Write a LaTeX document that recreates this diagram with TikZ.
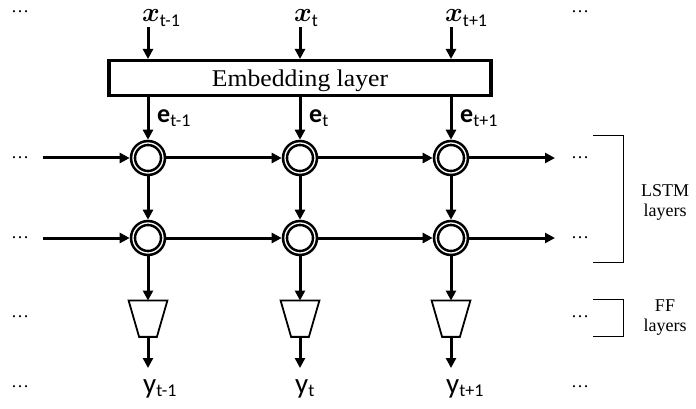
\documentclass[tikz,border=0pt]{standalone}
\usepackage{fix-cm}
\usepackage{fontspec}
\usepackage{amsmath,bm}
\setmainfont{Liberation Serif}
\newfontfamily\calibrifont{Carlito}
\newfontfamily\widefont[FakeStretch=1.07]{Liberation Serif}
\usetikzlibrary{arrows.meta}

\newcommand{\xlab}[1]{{\fontsize{27}{30}\selectfont$\boldsymbol{x}$}\raisebox{-5pt}{\calibrifont\fontsize{18}{20}\selectfont #1}}
\newcommand{\elab}[1]{{\calibrifont\bfseries\fontsize{26}{28}\selectfont e}\raisebox{-4pt}{\calibrifont\fontsize{18}{20}\selectfont #1}}
\newcommand{\ylab}[1]{{\calibrifont\fontsize{29}{32}\selectfont y}\raisebox{-3pt}{\calibrifont\fontsize{18}{20}\selectfont #1}}

\begin{document}
\begin{tikzpicture}[x=1pt, y=-1pt,
    arr/.style={line width=3pt, -{Triangle[length=10pt,width=10pt]}},
    cell/.style={circle, draw, line width=2.6pt, double=white,
      double distance=1.3pt, minimum size=30pt, inner sep=0pt, outer sep=3.3pt},
    ffbox/.style={minimum width=37pt, minimum height=34.5pt, inner sep=0pt,
      outer sep=0.9pt},
    ffline/.style={line width=1.8pt, line join=miter},
    dots/.style={font=\fontsize{18}{20}\selectfont, inner sep=0pt},
    side/.style={font=\fontsize{18}{20}\selectfont, align=center}]

  \useasboundingbox (0,0) rectangle (696,409);

  % embedding layer
  \node[draw, line width=3.3pt, minimum width=382pt, minimum height=34.7pt,
    text depth=0pt, font=\widefont\fontsize{24}{28}\selectfont] (embl)
    at (300,78) {Embedding layer};

  % one column per time step
  \foreach \i/\cx/\sub in {1/148/t-1, 2/300/t, 3/451/t+1} {
    \node[anchor=base west, inner sep=0pt] (x\i) at (\cx-6,22) {\xlab{\sub}};
    \node[cell] (a\i) at (\cx,158) {};
    \node[cell] (b\i) at (\cx,238) {};
    \node[ffbox] (f\i) at (\cx,318.7) {};
    \draw[ffline] (f\i.north west) -- (f\i.north east)
      -- ([xshift=-10.5pt]f\i.south east) -- ([xshift=10.5pt]f\i.south west)
      -- cycle;
    \coordinate (o\i) at (\cx,368);
    \node[anchor=base west, inner sep=0pt] (e\i) at (\cx+9,123) {\elab{\sub}};
    \node[anchor=base west, inner sep=0pt] (y\i) at (\cx-5,393) {\ylab{\sub}};
    \draw[arr] (x\i.south -| a\i) -- (a\i |- embl.north);
    \draw[arr] (a\i |- embl.south) -- (a\i);
    \draw[arr] (a\i) -- (b\i);
    \draw[arr] (b\i) -- (f\i);
    \draw[arr] (f\i) -- (o\i);
  }

  % recurrent connections
  \foreach \r/\ry in {a/158, b/238} {
    \coordinate (\r0) at (43,\ry);
    \coordinate (\r4) at (555,\ry);
    \draw[arr] (\r0) -- (\r1);
    \draw[arr] (\r1) -- (\r2);
    \draw[arr] (\r2) -- (\r3);
    \draw[arr] (\r3) -- (\r4);
  }

  % dots on both sides
  \foreach \dy in {12,158,238,317,387} {
    \node[dots] (dl\dy) at (20,\dy) {\ldots};
    \node[dots] (dr\dy) at (580,\dy) {\ldots};
  }

  % brackets
  \draw[line width=0.9pt] (593,135) -- (623,135) -- (623,262) -- (593,262);
  \node[side] (lstm) at (665,202) {LSTM\\layers};
  \draw[line width=0.9pt] (593,299) -- (623,299) -- (623,336) -- (593,336);
  \node[side] (ffl) at (665,318) {FF\\layers};
\end{tikzpicture}
\end{document}
